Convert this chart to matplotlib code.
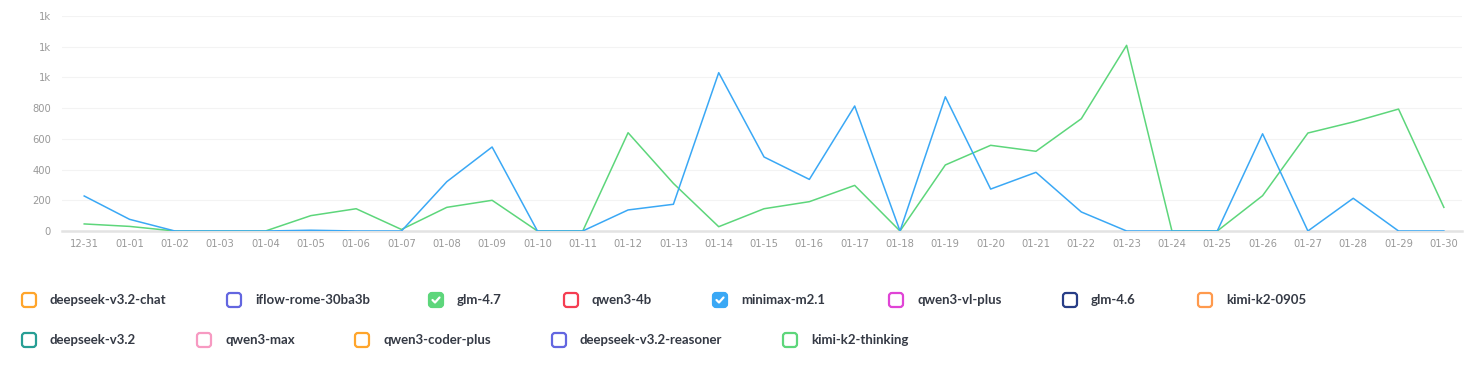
import numpy as np
import matplotlib.pyplot as plt
from matplotlib.patches import FancyBboxPatch
from matplotlib.lines import Line2D
from matplotlib.transforms import IdentityTransform
from matplotlib.ticker import FuncFormatter

# dates on the x axis
dates = ['12-31'] + ['01-%02d' % d for d in range(1, 31)]

# minimax-m2.1 (blue) and glm-4.7 (green) daily values
minimax = [228, 76, 0, 0, 0, 5, 0, 0, 321, 547, 0, 0, 137, 174, 1031, 482, 336, 814, 0,
           874, 273, 382, 124, 0, 0, 0, 633, 0, 213, 0, 0]
glm47 = [46, 30, 0, 0, 0, 100, 145, 10, 154, 200, 0, 0, 640, 310, 28, 145, 191, 297, 0,
         430, 558, 519, 731, 1209, 0, 0, 230, 638, 710, 794, 154]

y_ticks = [0, 200, 400, 600, 800, 1000, 1200, 1400]

# legend entries
legend_row1 = ['deepseek-v3.2-chat', 'iflow-rome-30ba3b', 'glm-4.7', 'qwen3-4b',
               'minimax-m2.1', 'qwen3-vl-plus', 'glm-4.6', 'kimi-k2-0905']
legend_row1_colors = ['#ffa52b', '#6366e0', '#5dd67b', '#f53d52',
                      '#3aa8f5', '#e044d6', '#273d86', '#ff9a4d']
legend_row1_checked = [False, False, True, False, True, False, False, False]
legend_row2 = ['deepseek-v3.2', 'qwen3-max', 'qwen3-coder-plus',
               'deepseek-v3.2-reasoner', 'kimi-k2-thinking']
legend_row2_colors = ['#279e94', '#f79ac2', '#ffa52b', '#6366e0', '#5dd67b']

W, H = 1478, 368
fig = plt.figure(figsize=(W / 100, H / 100), dpi=100)
ax = fig.add_axes([62 / W, 1 - 231 / H, (1462 - 62) / W, (231 - 16) / H])

x = np.arange(len(dates))
ax.plot(x, glm47, color='#5dd67b', lw=1.1, zorder=3)
ax.plot(x, minimax, color='#3aa8f5', lw=1.1, zorder=3)

ax.set_xlim(-0.49, len(dates) - 1 + 0.4)
ax.set_ylim(0, 1400)
ax.set_yticks(y_ticks)
ax.yaxis.set_major_formatter(FuncFormatter(lambda v, p: '%dk' % int(v // 1000) if v >= 1000 else '%d' % v))
ax.set_xticks(x)
ax.set_xticklabels(dates)
ax.grid(axis='y', color='#f3f3f3', lw=0.8)
ax.set_axisbelow(True)
for s in ['top', 'right', 'left']:
    ax.spines[s].set_visible(False)
ax.spines['bottom'].set_color('#e3e3e3')
ax.spines['bottom'].set_linewidth(1.8)
ax.tick_params(axis='both', length=0, labelsize=7.2, colors='#999999', pad=6)
ax.tick_params(axis='y', pad=8)


def legend_item(bx, cy, label, color, checked):
    # bx, cy in image pixels (top origin)
    y0 = H - cy - 8
    box = FancyBboxPatch((bx + 1, y0 + 1), 14, 14,
                         boxstyle='round,pad=0,rounding_size=3',
                         transform=IdentityTransform(),
                         facecolor=color if checked else 'white',
                         edgecolor=color, lw=1.6)
    fig.add_artist(box)
    if checked:
        fig.add_artist(Line2D([bx + 4.5, bx + 7, bx + 11.5], [y0 + 8, y0 + 5.5, y0 + 10.5],
                              transform=IdentityTransform(), color='white', lw=1.6,
                              solid_capstyle='round'))
    fig.text((bx + 29) / W, 1 - cy / H, label, fontsize=9.5, fontweight='bold',
             color='#353a45', va='center', ha='left', family='Lato')


row1_x = [21, 226, 428, 563, 712, 888, 1062, 1197]
row2_x = [21, 196, 354, 551, 782]
for bx, lab, col, chk in zip(row1_x, legend_row1, legend_row1_colors, legend_row1_checked):
    legend_item(bx, 300, lab, col, chk)
for bx, lab, col in zip(row2_x, legend_row2, legend_row2_colors):
    legend_item(bx, 340, lab, col, False)

fig.savefig('out.png', dpi=100)
